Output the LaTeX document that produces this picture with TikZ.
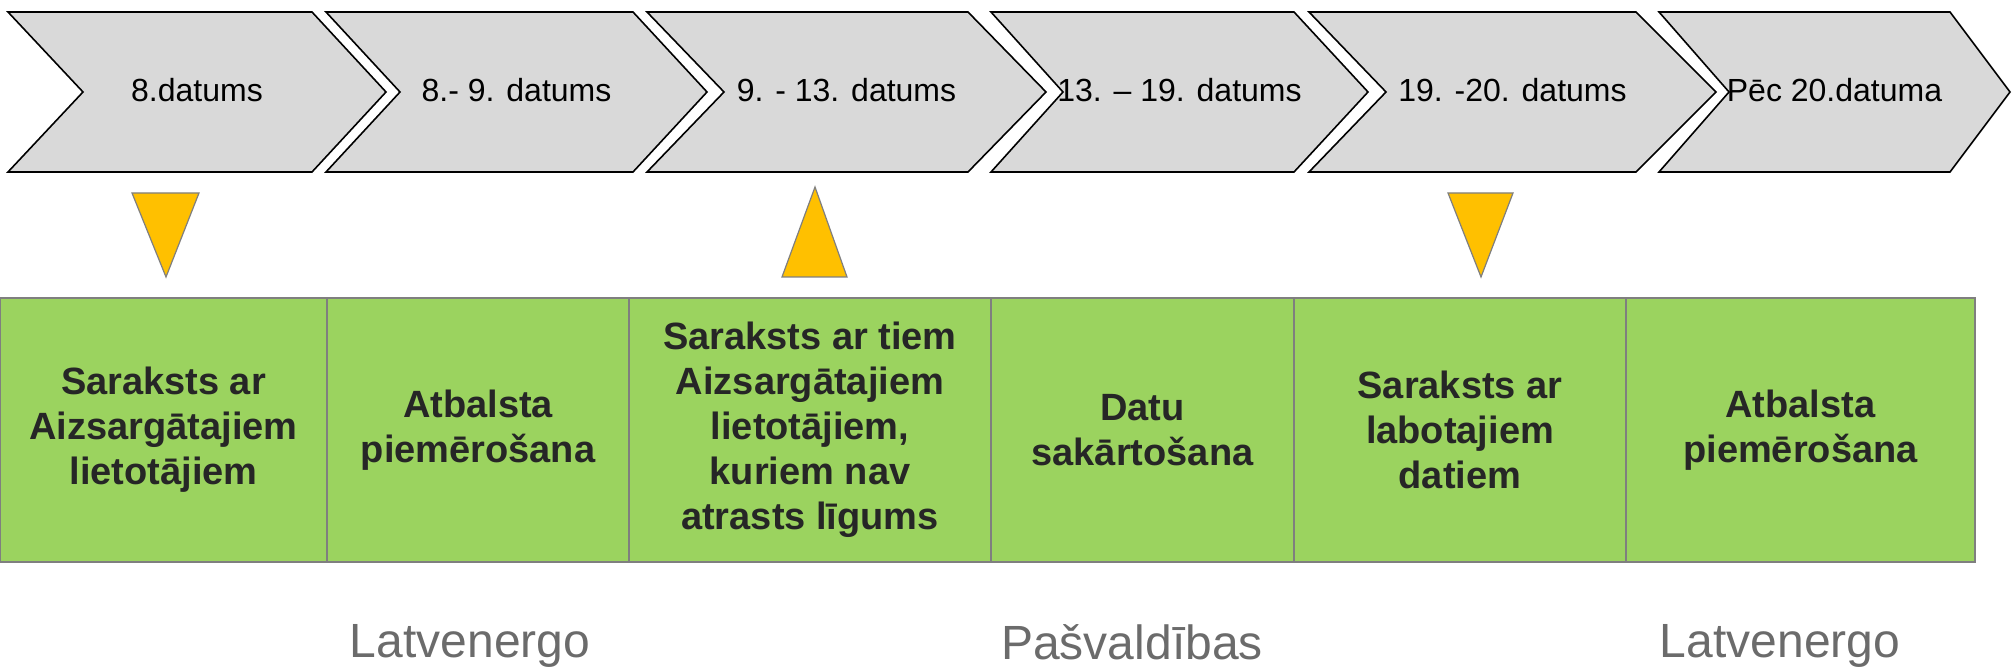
\documentclass[tikz,border=0pt]{standalone}
\usepackage{fontspec}
\setmainfont{Liberation Sans}
\usetikzlibrary{positioning}

\definecolor{gris}{HTML}{D9D9D9}
\definecolor{verde}{RGB}{155,211,95}
\definecolor{amarillo}{HTML}{FFC000}
\definecolor{borde}{HTML}{7F7F7F}
\definecolor{textoverde}{HTML}{262626}
\definecolor{textogris}{HTML}{6B6B6B}

\begin{document}
\begin{tikzpicture}[x=0.5pt, y=-0.5pt,
    flecha/.style={draw=black, line width=0.8pt, fill=gris},
    fecha/.style={anchor=base, font=\fontsize{16}{19}\selectfont},
    marca/.style={draw=borde, line width=0.6pt, fill=amarillo},
    etapa/.style={draw=borde, line width=0.8pt, fill=verde, inner sep=0pt, outer sep=0pt,
        minimum height=132pt, align=center, text=textoverde,
        font=\bfseries\fontsize{19}{22.5}\selectfont},
    actor/.style={anchor=base, text=textogris, font=\fontsize{24}{28}\selectfont}]

    \useasboundingbox (0,0) rectangle (2012,672);

    % Flechas de fechas
    \foreach \l/\n/\r/\t/\txt [count=\i] in {8/83/312/386/{8.datums},
        326/400/633/707/{8.- 9. datums}, 647/724/968/1046/{9. - 13. datums},
        991/1063/1294/1368/{13. – 19. datums}, 1309/1386/1636/1716/{19. -20. datums},
        1659/1729/1950/2010/{Pēc 20.datuma}} {
        \draw[flecha] (\l,12) -- (\r,12) -- (\t,92) -- (\r,172) -- (\l,172) -- (\n,92) -- cycle;
        \node[fecha] (d\i) at ({(\l+\t)/2},102) {\txt};
    }

    % Marcadores
    \draw[marca] (132,193) -- (199,193) -- (166,277) -- cycle;
    \draw[marca] (782,277) -- (847,277) -- (815,187) -- cycle;
    \draw[marca] (1448,193) -- (1513,193) -- (1481,277) -- cycle;

    % Etapas
    \foreach \l/\r/\txt [count=\i] in {0/327/{Saraksts ar\\Aizsargātajiem\\lietotājiem},
        327/629/{Atbalsta\\piemērošana},
        629/991/{Saraksts ar tiem\\Aizsargātajiem\\lietotājiem,\\kuriem nav\\atrasts līgums},
        991/1294/{Datu\\sakārtošana},
        1294/1626/{Saraksts ar\\labotajiem\\datiem},
        1626/1975/{Atbalsta\\piemērošana}} {
        \node[etapa, minimum width={(\r-\l)*0.5pt}] (e\i) at ({(\l+\r)/2},430) {\txt};
    }

    % Responsables
    \node[actor] (a1) at (470,658) {Latvenergo};
    \node[actor] (a2) at (1132,660) {Pašvaldības};
    \node[actor] (a3) at (1780,658) {Latvenergo};

\end{tikzpicture}
\end{document}
